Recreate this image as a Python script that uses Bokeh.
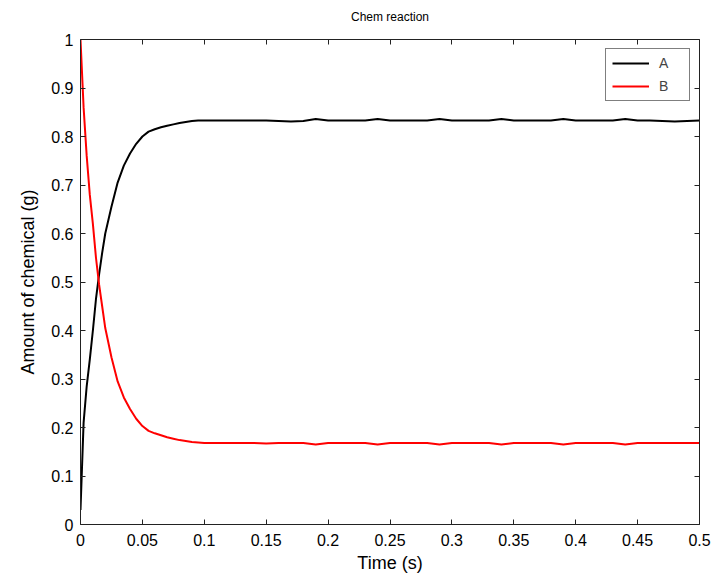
from bokeh.plotting import figure
from bokeh.models import Range1d, LinearAxis, FixedTicker, Legend, LegendItem, CustomLabelingPolicy
from bokeh.embed import file_html
from bokeh.resources import INLINE

# ---- data ----
time_s = [0, 0.0025, 0.005, 0.0075, 0.01, 0.0125, 0.015, 0.0175, 0.02,
          0.025, 0.03, 0.035, 0.04, 0.045, 0.05, 0.055, 0.06, 0.065, 0.07,
          0.075, 0.08, 0.085, 0.09, 0.095, 0.1,
          0.11, 0.12, 0.13, 0.14, 0.15, 0.16, 0.17, 0.18, 0.19, 0.2,
          0.21, 0.22, 0.23, 0.24, 0.25, 0.26, 0.27, 0.28, 0.29, 0.3,
          0.31, 0.32, 0.33, 0.34, 0.35, 0.36, 0.37, 0.38, 0.39, 0.4,
          0.41, 0.42, 0.43, 0.44, 0.45, 0.46, 0.47, 0.48, 0.49, 0.5]

amount_a = [0.03, 0.21, 0.285, 0.34, 0.40, 0.465, 0.515, 0.56, 0.60,
            0.655, 0.705, 0.74, 0.765, 0.785, 0.80, 0.81, 0.815, 0.819, 0.822,
            0.825, 0.828, 0.830, 0.832, 0.833, 0.833,
            0.833, 0.833, 0.833, 0.833, 0.833, 0.832, 0.831, 0.832, 0.836, 0.833,
            0.833, 0.833, 0.833, 0.836, 0.833, 0.833, 0.833, 0.833, 0.836, 0.833,
            0.833, 0.833, 0.833, 0.836, 0.833, 0.833, 0.833, 0.833, 0.836, 0.833,
            0.833, 0.833, 0.833, 0.836, 0.833, 0.833, 0.832, 0.831, 0.832, 0.833]

amount_b = [1.0, 0.86, 0.76, 0.68, 0.62, 0.55, 0.495, 0.45, 0.405,
            0.345, 0.295, 0.262, 0.238, 0.218, 0.203, 0.193, 0.188, 0.184, 0.180,
            0.177, 0.174, 0.172, 0.170, 0.169, 0.168,
            0.168, 0.168, 0.168, 0.168, 0.167, 0.168, 0.168, 0.168, 0.165, 0.168,
            0.168, 0.168, 0.168, 0.165, 0.168, 0.168, 0.168, 0.168, 0.165, 0.168,
            0.168, 0.168, 0.168, 0.165, 0.168, 0.168, 0.168, 0.168, 0.165, 0.168,
            0.168, 0.168, 0.168, 0.165, 0.168, 0.168, 0.168, 0.168, 0.168, 0.168]

series_labels = ["A", "B"]
chart_title = "Chem reaction"
x_ticks = [0, 0.05, 0.1, 0.15, 0.2, 0.25, 0.3, 0.35, 0.4, 0.45, 0.5]
x_tick_labels = ["0", "0.05", "0.1", "0.15", "0.2", "0.25", "0.3", "0.35", "0.4", "0.45", "0.5"]
y_ticks = [0, 0.1, 0.2, 0.3, 0.4, 0.5, 0.6, 0.7, 0.8, 0.9, 1]
y_tick_labels = ["0", "0.1", "0.2", "0.3", "0.4", "0.5", "0.6", "0.7", "0.8", "0.9", "1"]

FONT = "Liberation Sans"
AX = "#222222"

p = figure(width=712, height=575, output_backend="svg", toolbar_location=None,
           x_range=Range1d(0, 0.5), y_range=Range1d(0, 1),
           min_border_left=80, min_border_right=13, min_border_top=39, min_border_bottom=50,
           title=chart_title, x_axis_label="Time (s)", y_axis_label="Amount of chemical (g)")
p.grid.visible = False
p.outline_line_color = None
p.background_fill_color = "white"
p.border_fill_color = "white"

p.title.align = "center"
p.title.text_font = FONT
p.title.text_font_size = "12px"
p.title.text_font_style = "normal"
p.title.text_color = "black"
p.title.standoff = 12

def style_axis(ax, ticks, labels, show_labels=True):
    ax.ticker = FixedTicker(ticks=ticks)
    ax.major_tick_in = 5
    ax.major_tick_out = 0
    ax.minor_tick_line_color = None
    ax.axis_line_color = AX
    ax.major_tick_line_color = AX
    ax.axis_line_width = 1
    ax.major_label_text_font = FONT
    ax.major_label_text_color = "black"
    ax.axis_label_text_font = FONT
    ax.axis_label_text_font_style = "normal"
    ax.axis_label_text_color = "black"
    ax.axis_label_text_font_size = "18px"
    if show_labels:
        ax.major_label_overrides = dict(zip(ticks, labels))
        ax.major_label_text_font_size = "16px"
        ax.major_label_standoff = 7
    else:
        ax.major_label_policy = CustomLabelingPolicy(code="return;")
        ax.major_label_text_font_size = "1px"
        ax.major_label_standoff = 0

style_axis(p.xaxis[0], x_ticks, x_tick_labels)
style_axis(p.yaxis[0], y_ticks, y_tick_labels)
p.xaxis[0].major_label_standoff = 9
p.xaxis[0].axis_label_standoff = 4
p.yaxis[0].axis_label_standoff = 10

top_axis = LinearAxis()
style_axis(top_axis, x_ticks, x_tick_labels, show_labels=False)
top_axis.major_label_standoff = 6
p.add_layout(top_axis, "above")
right_axis = LinearAxis()
style_axis(right_axis, y_ticks, y_tick_labels, show_labels=False)
p.add_layout(right_axis, "right")

ra = p.line(time_s, amount_a, line_color="black", line_width=2)
rb = p.line(time_s, amount_b, line_color="#ff0000", line_width=2)

legend = Legend(items=[LegendItem(label=series_labels[0], renderers=[ra]),
                       LegendItem(label=series_labels[1], renderers=[rb])],
                location="top_right", margin=9, padding=6, spacing=7,
                glyph_width=37, glyph_height=16, label_height=16, label_width=24,
                label_standoff=10, label_text_font=FONT, label_text_font_size="14px",
                border_line_color="black", border_line_width=1,
                background_fill_color="white", background_fill_alpha=1)
p.add_layout(legend)

open("out.html", "w").write(file_html(p, INLINE))
